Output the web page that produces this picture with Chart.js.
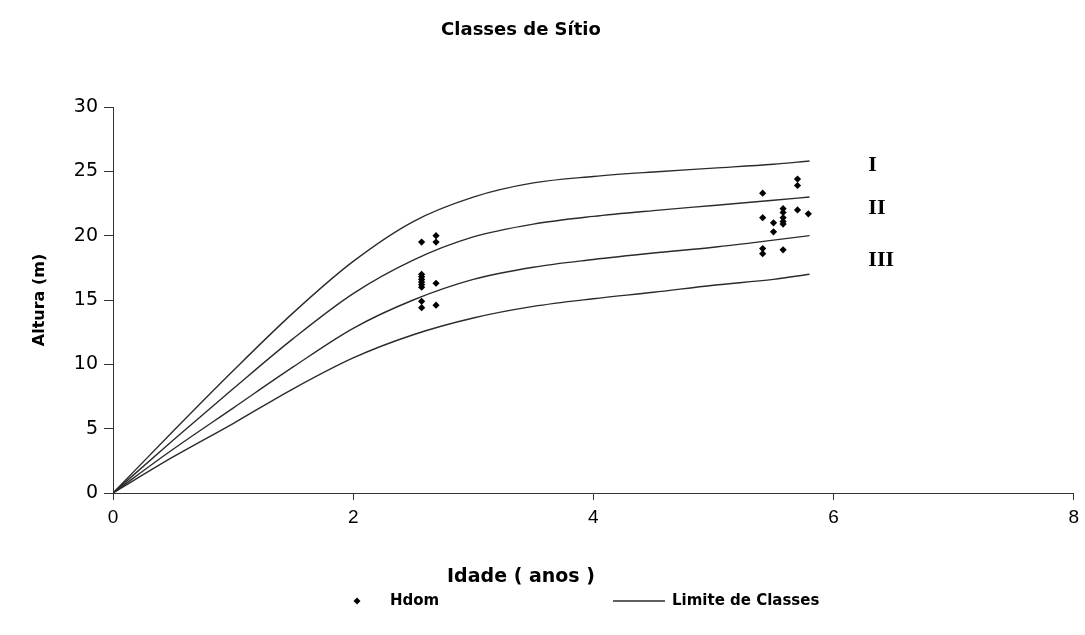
<!DOCTYPE html>
<html>
<head>
<meta charset="utf-8">
<script src="https://cdn.jsdelivr.net/npm/chart.js@4.4.1/dist/chart.umd.min.js"></script>
<style>
  html, body { margin: 0; padding: 0; background: #fff; }
  #wrap { width: 1085px; height: 635px; position: relative; }
</style>
</head>
<body>
<div id="wrap"><canvas id="c" width="1085" height="635"></canvas></div>
<script>
// Ages (years) at which the class-limit curves are given
const ages = [0, 0.5, 1, 1.5, 2, 2.5, 3, 3.5, 4, 4.5, 5, 5.5, 5.8];

// Dominant-height limit curves between site classes (m)
const limitTop   = [0, 4.8, 9.5, 14.0, 18.0, 21.1, 23.0, 24.1, 24.6, 24.95, 25.25, 25.55, 25.8];
const limitUpper = [0, 4.1, 8.1, 12.0, 15.5, 18.1, 19.9, 20.9, 21.5, 21.95, 22.35, 22.75, 23.0];
const limitLower = [0, 3.4, 6.6, 9.8, 12.8, 15.0, 16.6, 17.55, 18.15, 18.65, 19.1, 19.65, 20.0];
const limitBase  = [0, 2.8, 5.4, 8.1, 10.5, 12.3, 13.6, 14.5, 15.1, 15.6, 16.15, 16.6, 17.0];

// Measured dominant height (Hdom) per plot
const hdomAge = [
  2.57, 2.69, 2.69, 2.57, 2.57, 2.57, 2.57, 2.57, 2.57, 2.69, 2.57, 2.57, 2.69,
  5.41, 5.70, 5.70, 5.41, 5.50, 5.50, 5.58, 5.58, 5.58, 5.58, 5.58, 5.70, 5.79, 5.41, 5.41, 5.58
];
const hdomHeight = [
  19.5, 20.0, 19.5, 17.0, 16.8, 16.6, 16.4, 16.2, 16.0, 16.3, 14.9, 14.4, 14.6,
  23.3, 24.4, 23.9, 21.4, 21.0, 20.3, 22.1, 21.8, 21.4, 21.1, 20.9, 22.0, 21.7, 19.0, 18.6, 18.9
];

// Site class names and the height each one is labelled at
const classNames = ['I', 'II', 'III'];
const classLabelHeight = [25.5, 22.1, 18.1];
const classLabelAge = 6.29;

// Axis ranges and tick steps
const xTicks = [0, 2, 4, 6, 8];
const yTicks = [0, 5, 10, 15, 20, 25, 30];

const CURVE_COLOR = '#2b2b2b';
const AXIS_COLOR = '#333333';

const pts = (xs, ys) => xs.map((x, i) => ({ x: x, y: ys[i] }));

const curveStyle = {
  showLine: true,
  pointRadius: 0,
  pointHoverRadius: 0,
  borderColor: CURVE_COLOR,
  borderWidth: 1.4,
  cubicInterpolationMode: 'monotone',
  fill: false
};

// Titles, class labels and legend drawn on top of the plot
const annotations = {
  id: 'annotations',
  afterDraw(chart) {
    const ctx = chart.ctx;
    const xs = chart.scales.x, ys = chart.scales.y;
    ctx.save();
    ctx.fillStyle = '#000';
    ctx.textBaseline = 'middle';

    ctx.textAlign = 'center';
    ctx.font = 'bold 18px "DejaVu Sans"';
    ctx.fillText('Classes de Sítio', 521, 30);

    ctx.font = 'bold 19px "DejaVu Sans"';
    ctx.fillText('Idade ( anos )', 521, 577);

    ctx.save();
    ctx.translate(40, 300);
    ctx.rotate(-Math.PI / 2);
    ctx.font = 'bold 16px "DejaVu Sans"';
    ctx.fillText('Altura (m)', 0, 0);
    ctx.restore();

    ctx.textAlign = 'left';
    ctx.font = 'bold 22px "Liberation Serif"';
    classNames.forEach((name, i) => {
      ctx.fillText(name, xs.getPixelForValue(classLabelAge), ys.getPixelForValue(classLabelHeight[i]));
    });

    // legend
    const ly = 601;
    ctx.beginPath();
    ctx.moveTo(357, ly - 3.5); ctx.lineTo(360.5, ly); ctx.lineTo(357, ly + 3.5); ctx.lineTo(353.5, ly);
    ctx.closePath();
    ctx.fill();
    ctx.font = 'bold 15px "DejaVu Sans"';
    ctx.fillText('Hdom', 390, ly);
    ctx.strokeStyle = CURVE_COLOR;
    ctx.lineWidth = 1.4;
    ctx.beginPath();
    ctx.moveTo(613, ly); ctx.lineTo(665, ly);
    ctx.stroke();
    ctx.fillText('Limite de Classes', 672, ly);
    ctx.restore();
  }
};

new Chart(document.getElementById('c'), {
  type: 'scatter',
  data: {
    datasets: [
      {
        label: 'Hdom',
        data: pts(hdomAge, hdomHeight),
        pointStyle: 'rectRot',
        pointRadius: 3.6,
        pointHoverRadius: 3.6,
        backgroundColor: '#000',
        borderColor: '#000',
        borderWidth: 0
      },
      Object.assign({ label: 'Limite de Classes', data: pts(ages, limitTop) }, curveStyle),
      Object.assign({ label: 'Limite de Classes', data: pts(ages, limitUpper) }, curveStyle),
      Object.assign({ label: 'Limite de Classes', data: pts(ages, limitLower) }, curveStyle),
      Object.assign({ label: 'Limite de Classes', data: pts(ages, limitBase) }, curveStyle)
    ]
  },
  options: {
    responsive: false,
    animation: false,
    events: [],
    layout: {
      autoPadding: false,
      padding: { top: 107, right: 8, bottom: 97, left: 0 }
    },
    plugins: {
      legend: { display: false },
      title: { display: false },
      tooltip: { enabled: false }
    },
    scales: {
      x: {
        type: 'linear',
        min: xTicks[0],
        max: xTicks[xTicks.length - 1],
        afterBuildTicks: (s) => { s.ticks = xTicks.map(v => ({ value: v })); },
        afterFit: (s) => { s.height = 45; },
        ticks: {
          color: '#000',
          padding: 6,
          font: { family: '"Liberation Sans Narrow", "Liberation Sans"', size: 19 }
        },
        grid: { drawOnChartArea: false, drawTicks: true, tickLength: 7, color: AXIS_COLOR },
        border: { display: true, color: AXIS_COLOR, width: 1 }
      },
      y: {
        type: 'linear',
        min: yTicks[0],
        max: yTicks[yTicks.length - 1],
        afterBuildTicks: (s) => { s.ticks = yTicks.map(v => ({ value: v })); },
        afterFit: (s) => { s.width = 113; },
        ticks: {
          color: '#000',
          padding: 6,
          font: { family: '"DejaVu Sans"', size: 19 }
        },
        grid: { drawOnChartArea: false, drawTicks: true, tickLength: 9, color: AXIS_COLOR },
        border: { display: true, color: AXIS_COLOR, width: 1 }
      }
    }
  },
  plugins: [annotations]
});
</script>
</body>
</html>
